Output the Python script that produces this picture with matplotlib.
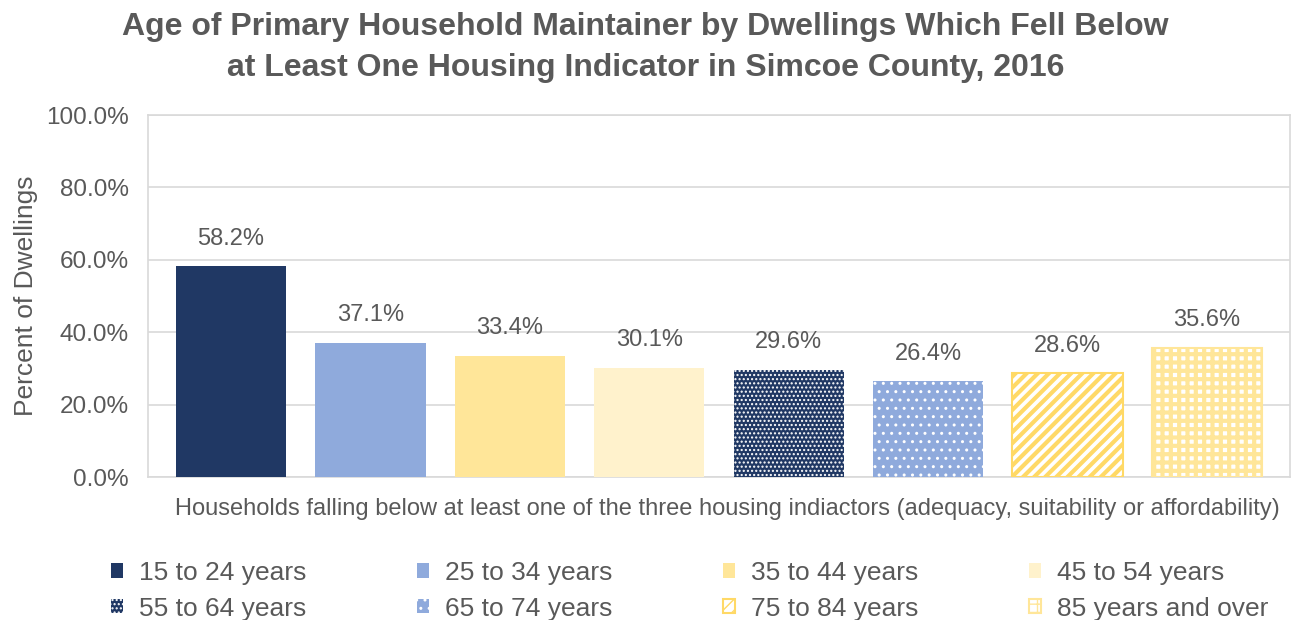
import matplotlib
matplotlib.use("Agg")
import matplotlib.pyplot as plt

plt.rcParams['font.family'] = ['Liberation Sans', 'DejaVu Sans']

# data
age_groups = ["15 to 24 years", "25 to 34 years", "35 to 44 years", "45 to 54 years",
              "55 to 64 years", "65 to 74 years", "75 to 84 years", "85 years and over"]
pct = [58.2, 37.1, 33.4, 30.1, 29.6, 26.4, 28.6, 35.6]
y_ticks = [0, 20, 40, 60, 80, 100]

# style per bar: (face, edge/hatch colour, hatch, border width, hatch width)
styles = [
    ("#203864", "#203864", None, 0, 1),
    ("#8faadc", "#8faadc", None, 0, 1),
    ("#ffe699", "#ffe699", None, 0, 1),
    ("#fff2cc", "#fff2cc", None, 0, 1),
    ("#203864", "white", "....", 0, 1.0),
    ("#8faadc", "white", "..", 0, 1.0),
    ("white", "#ffd966", "///", 1.5, 3.0),
    ("white", "#ffe699", "++", 1.5, 3.0),
]

grey = "#595959"

fig = plt.figure(figsize=(13.01, 6.2), dpi=100)
ax = fig.add_axes([0.1138, 0.2306, 0.8777, 0.5839])

handles = []
for i, (v, lab, st) in enumerate(zip(pct, age_groups, styles)):
    face, edge, hatch, lw, hlw = st
    with plt.rc_context({'hatch.linewidth': hlw}):
        b = ax.bar(i, v, width=0.79, color=face, edgecolor=edge, hatch=hatch,
                   linewidth=lw, label=lab, zorder=3)
    for p in b:
        if hasattr(p, "set_hatch_linewidth"):
            p.set_hatch_linewidth(hlw)
    ax.bar_label(b, labels=[f"{v:.1f}%"], padding=12, fontsize=17, color=grey)
    handles.append(b)

ax.set_xlim(-0.595, 7.595)
ax.set_ylim(0, 100)
ax.set_yticks(y_ticks)
ax.set_yticklabels([f"{t:.1f}%" for t in y_ticks], fontsize=17.5, color=grey)
ax.set_xticks([])
ax.tick_params(axis='y', length=0, pad=14)
ax.grid(axis='y', color="#d9d9d9", linewidth=1.2, zorder=0)
for s in ax.spines.values():
    s.set_color("#d9d9d9")
    s.set_linewidth(1.2)

ax.set_ylabel("Percent of Dwellings", fontsize=19, color=grey, labelpad=6)
ax.set_xlabel("Households falling below at least one of the three housing indiactors "
              "(adequacy, suitability or affordability)", fontsize=17, color=grey)
ax.xaxis.set_label_coords(0.507, -0.058)
ax.xaxis.label.set_va('top')

fig.suptitle("Age of Primary Household Maintainer by Dwellings Which Fell Below\n"
             "at Least One Housing Indicator in Simcoe County, 2016",
             x=0.496, y=0.98, fontsize=23, fontweight='bold', color=grey,
             linespacing=1.45)

order = [0, 4, 1, 5, 2, 6, 3, 7]
leg = fig.legend([handles[k] for k in order], [age_groups[k] for k in order],
                 ncol=4, loc='center', bbox_to_anchor=(0.53, 0.047), frameon=False,
                 fontsize=19, handlelength=0.45, handleheight=0.45, handletextpad=0.6,
                 columnspacing=4.2, labelspacing=0.45, labelcolor=grey)

fig.savefig("out.png", dpi=100)
